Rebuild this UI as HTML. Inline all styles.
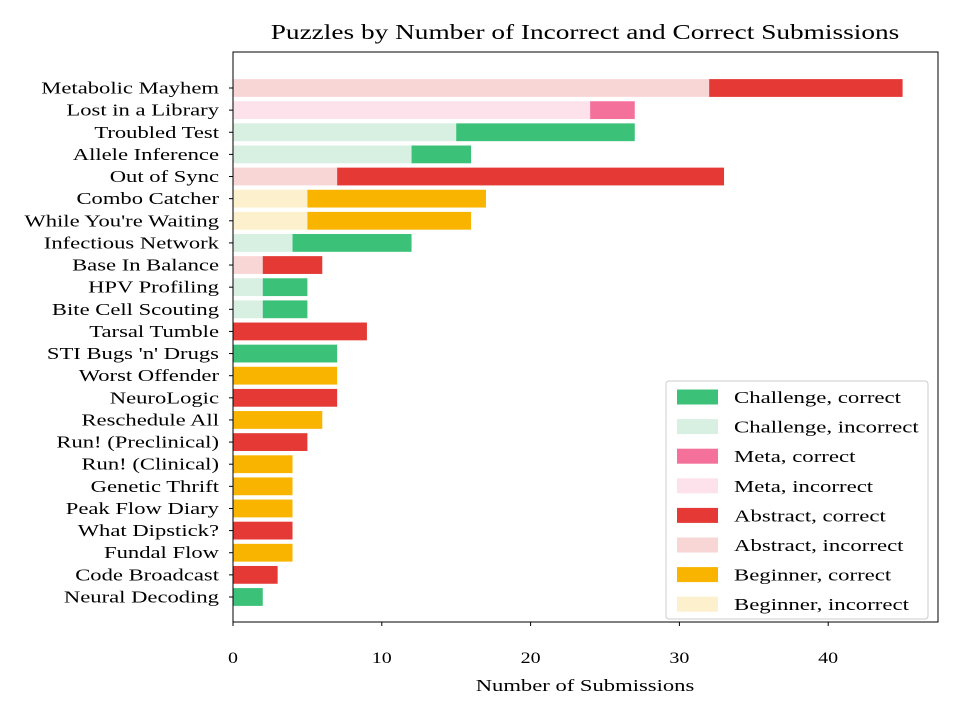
<!DOCTYPE html>
<html><head><meta charset="utf-8"><style>
html,body{margin:0;padding:0;background:#fff;}
svg text{font-family:"Liberation Serif",serif;fill:#000;}
</style></head><body>
<svg id="chart" width="960" height="720" xmlns="http://www.w3.org/2000/svg"></svg>
<script>
const names=["Metabolic Mayhem","Lost in a Library","Troubled Test","Allele Inference","Out of Sync","Combo Catcher","While You're Waiting","Infectious Network","Base In Balance","HPV Profiling","Bite Cell Scouting","Tarsal Tumble","STI Bugs 'n' Drugs","Worst Offender","NeuroLogic","Reschedule All","Run! (Preclinical)","Run! (Clinical)","Genetic Thrift","Peak Flow Diary","What Dipstick?","Fundal Flow","Code Broadcast","Neural Decoding"];
const categories=["Abstract","Meta","Challenge","Challenge","Abstract","Beginner","Beginner","Challenge","Abstract","Challenge","Challenge","Abstract","Challenge","Beginner","Abstract","Beginner","Abstract","Beginner","Beginner","Beginner","Abstract","Beginner","Abstract","Challenge"];
const incorrect=[32,24,15,12,7,5,5,4,2,2,2,0,0,0,0,0,0,0,0,0,0,0,0,0];
const correct=[13,3,12,4,26,12,11,8,4,3,3,9,7,7,7,6,5,4,4,4,4,4,3,2];
const xTicks=[0,10,20,30,40];
const legendLabels=["Challenge, correct","Challenge, incorrect","Meta, correct","Meta, incorrect","Abstract, correct","Abstract, incorrect","Beginner, correct","Beginner, incorrect"];

const colors={Challenge:["#3cc278","#d7f0e2"],Meta:["#f4719b","#fde2ec"],Abstract:["#e53935","#f9d6d6"],Beginner:["#f9b400","#fdf0cc"]};
const L=233,R=938,T=52,B=622;
const x=v=>L+v*14.88;
const y=i=>88+i*22.13;
const svg=document.getElementById('chart');
const NS="http://www.w3.org/2000/svg";
function mk(tag,attrs,parent){const e=document.createElementNS(NS,tag);for(const k in attrs)e.setAttribute(k,attrs[k]);(parent||svg).appendChild(e);return e;}
function widen(t,f){const w=t.getComputedTextLength();t.setAttribute('textLength',w*f);t.setAttribute('lengthAdjust','spacingAndGlyphs');}

const title=mk('text',{x:585,y:39,'text-anchor':'middle','font-size':21});
title.textContent="Puzzles by Number of Incorrect and Correct Submissions";


widen(title,1.3);

names.forEach((n,i)=>{
  const c=colors[categories[i]];
  if(incorrect[i]>0){
    const r=mk('rect',{x:x(0),y:y(i)-8.9,width:x(incorrect[i])-x(0),height:17.8,fill:c[1]});
    
    
  }
  const r2=mk('rect',{x:x(incorrect[i]),y:y(i)-8.9,width:x(incorrect[i]+correct[i])-x(incorrect[i]),height:17.8,fill:c[0]});
  
  
  mk('line',{x1:L-4,x2:L,y1:y(i),y2:y(i),stroke:'#000','stroke-width':1});
  const t=mk('text',{x:L-14,y:y(i)+5.5,'text-anchor':'end','font-size':17});
  t.textContent=n;
  
  
  widen(t,1.33);
});

const frame=mk('rect',{x:L,y:T,width:R-L,height:B-T,fill:'none',stroke:'#000','stroke-width':1});



xTicks.forEach(v=>{
  mk('line',{x1:x(v),x2:x(v),y1:B,y2:B+4,stroke:'#000','stroke-width':1});
  const t=mk('text',{x:x(v),y:B+41,'text-anchor':'middle','font-size':16});
  t.textContent=v;
  
  
  widen(t,1.25);
});
const xt=mk('text',{x:585,y:691,'text-anchor':'middle','font-size':17});
xt.textContent="Number of Submissions";


widen(xt,1.33);

const lg=mk('g',{});


mk('rect',{x:666,y:381,width:262,height:238,rx:3,fill:'#fff',stroke:'#ccc','stroke-width':1},lg);
const order=[["Challenge",0],["Challenge",1],["Meta",0],["Meta",1],["Abstract",0],["Abstract",1],["Beginner",0],["Beginner",1]];
legendLabels.forEach((lab,k)=>{
  const cy=397+k*29.6;
  mk('rect',{x:677,y:cy-7.5,width:41,height:15,fill:colors[order[k][0]][order[k][1]]},lg);
  const t=mk('text',{x:734,y:cy+6,'font-size':17},lg);
  t.textContent=lab;
  
  
  widen(t,1.34);
});
</script>
</body></html>
